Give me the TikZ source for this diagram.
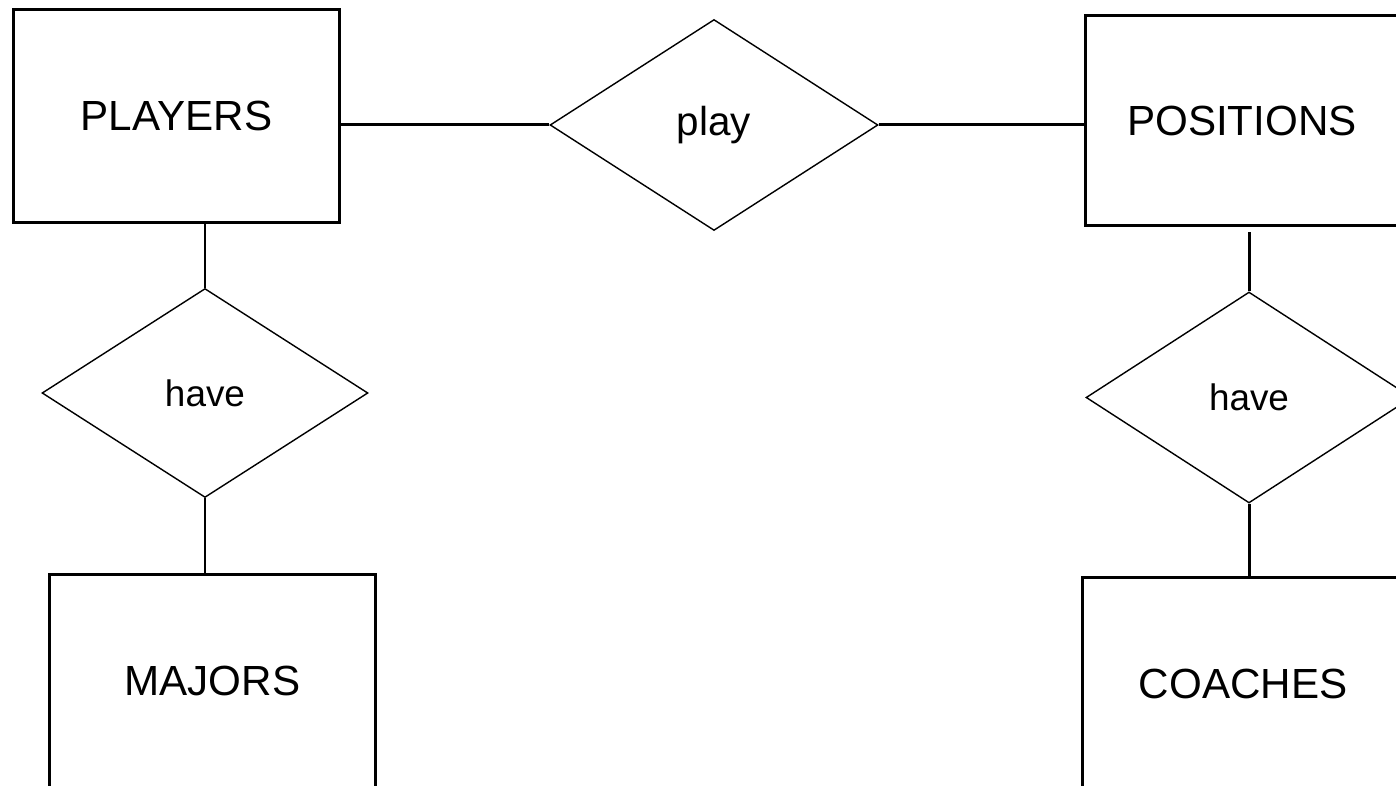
\documentclass[tikz,border=0pt]{standalone}
\usepackage{fontspec}
\setmainfont{Liberation Sans}
\usetikzlibrary{shapes.geometric}
\tikzset{
  entity/.style={draw, line width=1.7pt, inner sep=0pt,
    font=\fontsize{24}{29}\selectfont},
  relation/.style={draw, diamond, line width=0.8pt, inner sep=0pt,
    minimum width=6.52cm, minimum height=4.18cm, font=\fontsize{21}{26}\selectfont},
  link/.style={line width=1.7pt}
}
\begin{document}
\begin{tikzpicture}[x=0.02cm,y=-0.02cm]
    \clip (0,0) rectangle (1396,786);
    \node[entity, minimum width=6.54cm, minimum height=4.28cm] (players) at (176.5,116) {PLAYERS};
    \node[entity, minimum width=6.28cm, minimum height=4.22cm] (positions) at (1242,120.5) {POSITIONS};
    \node[entity, minimum width=6.54cm, minimum height=4.28cm] (majors) at (212.5,681) {MAJORS};
    \node[entity, minimum width=6.44cm, minimum height=4.28cm] (coaches) at (1243,684) {COACHES};
    \node[relation, minimum width=6.56cm, minimum height=4.22cm, font=\fontsize{23}{28}\selectfont] (play) at (714,125) {play};
    \node[relation] (have1) at (205,393) {have};
    \node[relation, minimum height=4.22cm] (have2) at (1249,397.5) {have};
    \draw[link] (play.west -| players.east) -- (play.west);
    \draw[link] (play.east) -- (play.east -| positions.west);
    \draw[link] (players.south -| have1.north) -- (have1.north);
    \draw[link] (have1.south) -- (have1.south |- majors.north);
    \draw[link, shorten <=0.1cm] (positions.south -| have2.north) -- (have2.north);
    \draw[link] (have2.south) -- (have2.south |- coaches.north);
\end{tikzpicture}
\end{document}
